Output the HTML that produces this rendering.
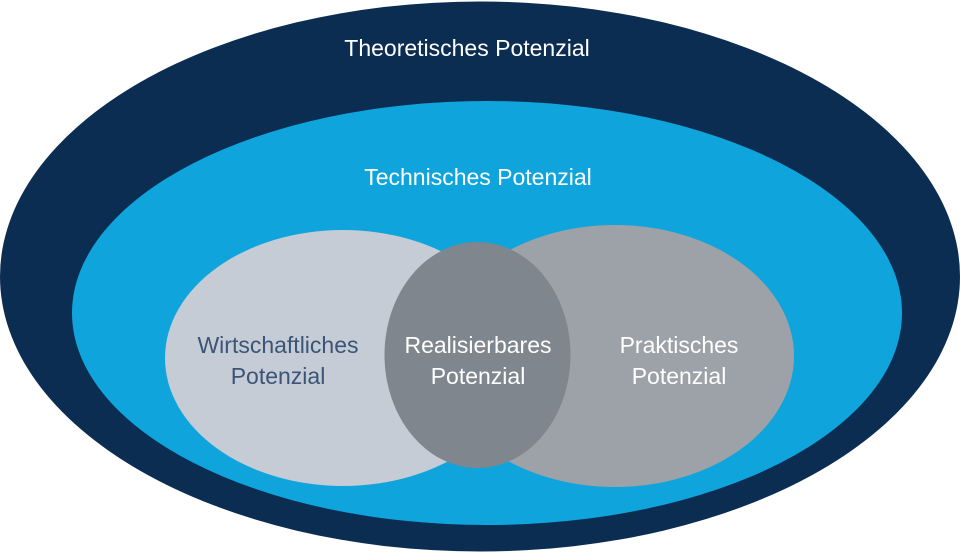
<!DOCTYPE html>
<html><head><meta charset="utf-8"><style>
html,body{margin:0;padding:0;background:#fff;}
svg{display:block;}
text{font-family:"Liberation Sans",sans-serif;font-size:23px;}
</style></head><body>
<svg width="960" height="553" viewBox="0 0 960 553">
<ellipse cx="480" cy="276.5" rx="480" ry="275" fill="#0c2d52"/>
<ellipse cx="487" cy="313" rx="415" ry="212" fill="#0fa5dc"/>
<ellipse cx="343" cy="358" rx="178" ry="128" fill="#c6ccd5"/>
<ellipse cx="615" cy="356" rx="179" ry="131" fill="#9da2a8"/>
<ellipse cx="477.5" cy="355" rx="93" ry="113" fill="#7f868d"/>
<g text-anchor="middle" fill="#fff">
<text x="467" y="56">Theoretisches Potenzial</text>
<text x="478" y="185">Technisches Potenzial</text>
<text x="478" y="353">Realisierbares</text>
<text x="478" y="384">Potenzial</text>
<text x="679" y="353">Praktisches</text>
<text x="679" y="384">Potenzial</text>
<text x="278" y="353" fill="#3b5477">Wirtschaftliches</text>
<text x="278" y="384" fill="#3b5477">Potenzial</text>
</g>
</svg>
</body></html>
